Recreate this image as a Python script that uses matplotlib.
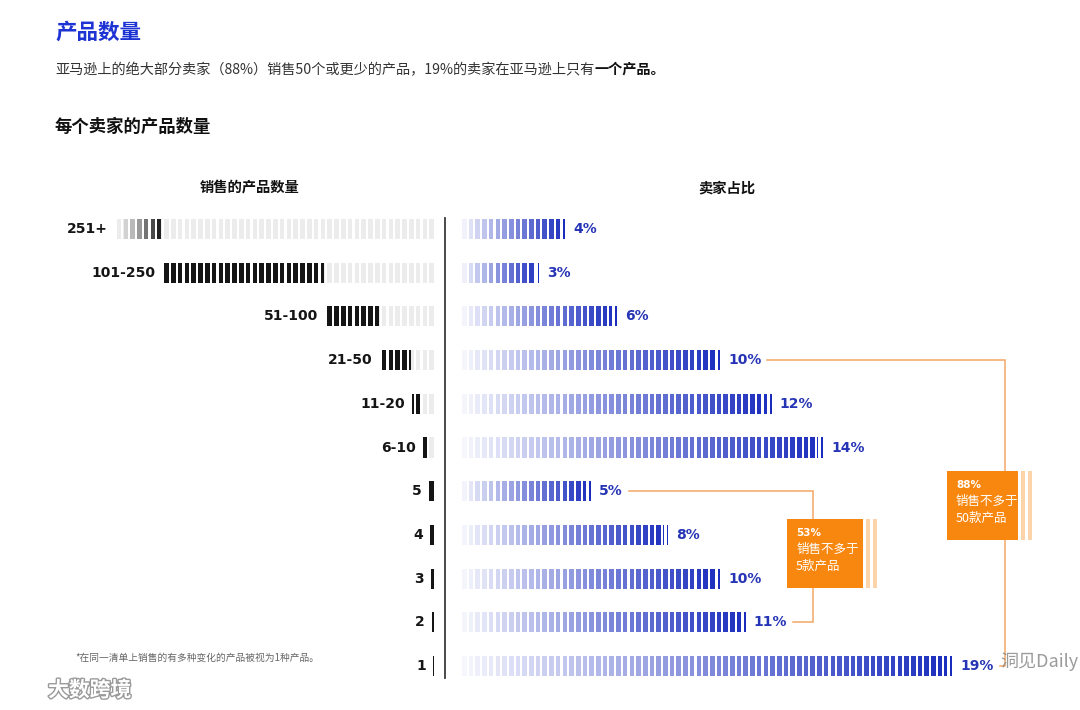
import numpy as np
import matplotlib
matplotlib.use("Agg")
import matplotlib.pyplot as plt
import matplotlib.patheffects as pe
from matplotlib.colors import to_rgb
from matplotlib.patches import Rectangle

plt.rcParams['font.family'] = ['Noto Sans CJK SC', 'DejaVu Sans']

# --- data ---
range_labels = ['251+', '101-250', '51-100', '21-50', '11-20', '6-10', '5', '4', '3', '2', '1']
# black part of each range bar, in number of products (open end of 251+ fades out)
span_lo = [251, 101, 51, 21, 11, 6, 0, 0, 0, 0, 0]
span_hi = [285, 250, 100, 50, 20, 10, 5, 4, 3, 2, 1]
seller_share = [4, 3, 6, 10, 12, 14, 5, 8, 10, 11, 19]  # % of sellers

group_pct = ['53%', '88%']
group_text = ['销售不多于\n5款产品', '销售不多于\n50款产品']
group_rows = [(6, 9), (3, 10)]

# --- layout / style ---
W, H = 1080, 710
PX_PROD = 1.088      # px per product (left)
PX_PCT = 25.8        # px per percent (right)
TOP_PX, BOT_PX = 207, 688

title_blue = '#1d33d3'
blue_dark = np.array(to_rgb('#1a2dbd'))
label_blue = '#2634b6'
black = '#151515'
bg_gray = '#ececec'
orange = '#f7870f'
orange_line = '#f2a866'
orange_light = '#fcd4a9'

bracket_x = [13.6, 21.05]
box_x = [(12.6, 15.55), (18.8, 21.55)]
box_y = [(6.64, 8.21), (5.54, 7.12)]


def fx(px):
    return px / W


def fy(py):
    return 1 - py / H


def grid_stripes(lo, hi, period, width):
    """Stripes on a fixed grid from 0, clipped to [lo, hi]."""
    if hi <= lo:
        return np.array([]), np.array([])
    k = np.arange(int(np.floor(lo / period)) - 1, int(np.ceil(hi / period)) + 1)
    lefts = k * period
    a = np.maximum(lefts, lo)
    b = np.minimum(lefts + width, hi)
    keep = (b - a) > 1e-6
    return a[keep], (b - a)[keep]


fig = plt.figure(figsize=(W / 100, H / 100), dpi=100)
ax_h = (BOT_PX - TOP_PX) / H
ax_l = fig.add_axes([fx(40), fy(BOT_PX), fx(434 - 40), ax_h])
ax_r = fig.add_axes([fx(445), fy(BOT_PX), fx(1075 - 445), ax_h])

ax_l.set_xlim((434 - 40) / PX_PROD, 0)
ax_r.set_xlim(-17 / PX_PCT, (1075 - 462) / PX_PCT)
for ax in (ax_l, ax_r):
    ax.set_ylim(len(range_labels) - 0.5, -0.5)
    ax.set_xticks([])
    ax.set_yticks([])
    ax.patch.set_visible(False)
    for s in ax.spines.values():
        s.set_visible(False)

# divider
ax_r.spines['left'].set_visible(True)
ax_r.spines['left'].set_bounds(-0.25, 10.27)
ax_r.spines['left'].set_color('#3a3a3a')
ax_r.spines['left'].set_linewidth(1.3)

bar_h = 0.46

# --- left: product ranges ---
p_l, w_l = 6.8 / PX_PROD, 4.7 / PX_PROD
fade_end = 293
for i, (lbl, lo, hi) in enumerate(zip(range_labels, span_lo, span_hi)):
    bg_hi = fade_end if i == 0 else hi
    a, w = grid_stripes(0, bg_hi, p_l, w_l)
    ax_l.barh(np.full(len(a), i), w, left=a, height=bar_h, color=bg_gray, linewidth=0)
    a, w = grid_stripes(lo, hi, p_l, w_l)
    if i == 0:
        t = np.clip((hi - (a + w / 2)) / (hi - lo), 0, 1)
        light = np.array(to_rgb('#d6d6d6'))
        dark = np.array(to_rgb(black))
        cols = [light + (dark - light) * tt ** 1.3 for tt in t]
    else:
        cols = black
    ax_l.barh(np.full(len(a), i), w, left=a, height=bar_h, color=cols, linewidth=0)
    ax_l.annotate(lbl, xy=(bg_hi, i), xytext=(-7, 0), textcoords='offset pixels',
                  ha='right', va='center', fontsize=10, fontweight='bold',
                  color=black, family='DejaVu Sans')

# --- right: share of sellers ---
p_r, w_r = 6.7 / PX_PCT, 4.6 / PX_PCT
gap_r, cap_w = 3.0 / PX_PCT, 1.8 / PX_PCT
white = np.ones(3)
pct_texts = []
for i, v in enumerate(seller_share):
    a, w = grid_stripes(0, v - cap_w - gap_r, p_r, w_r)
    t = (a + w / 2) / v
    cols = [white + (blue_dark - white) * (0.03 + 0.97 * tt ** 0.9) for tt in t]
    ax_r.barh(np.full(len(a), i), w, left=a, height=bar_h, color=cols, linewidth=0)
    ax_r.barh(i, cap_w, left=v - cap_w, height=bar_h, color=blue_dark, linewidth=0)
    txt = ax_r.annotate(f'{v}%', xy=(v, i), xytext=(8, 0), textcoords='offset pixels',
                        ha='left', va='center', fontsize=10, fontweight='bold',
                        color=label_blue, family='DejaVu Sans')
    pct_texts.append(txt)

# --- brackets and boxes ---
fig.canvas.draw()
inv = ax_r.transData.inverted()


def label_end(i):
    bb = pct_texts[i].get_window_extent()
    return inv.transform((bb.x1 + 6, 0))[0]


for g, (r0, r1) in enumerate(group_rows):
    bx = bracket_x[g]
    ax_r.plot([label_end(r0), bx, bx, label_end(r1)], [r0, r0, r1, r1],
              color=orange_line, lw=1.1, zorder=3, solid_joinstyle='miter')
    x0, x1 = box_x[g]
    y0, y1 = box_y[g]
    ax_r.add_patch(Rectangle((x0, y0), x1 - x0, y1 - y0, facecolor=orange,
                             edgecolor='none', zorder=4))
    for off in (3, 10):
        ax_r.add_patch(Rectangle((x1 + off / PX_PCT, y0), 4 / PX_PCT, y1 - y0,
                                 facecolor=orange_light, edgecolor='none', zorder=4))
    ax_r.annotate(group_pct[g], xy=(x0, y0), xytext=(9, -14), textcoords='offset pixels',
                  ha='left', va='center', fontsize=7.5, fontweight='bold',
                  color='white', family='DejaVu Sans', zorder=5)
    ax_r.annotate(group_text[g], xy=(x0, y0), xytext=(9, -24), textcoords='offset pixels',
                  ha='left', va='top', fontsize=9, color='white', linespacing=1.35, zorder=5)

# --- texts ---
fig.text(fx(55), fy(32), '产品数量', fontsize=15.5, fontweight='bold',
         color=title_blue, ha='left', va='center')
sub = fig.text(fx(55), fy(70), '亚马逊上的绝大部分卖家（88%）销售50个或更少的产品，19%的卖家在亚马逊上只有',
               fontsize=10.2, color='#333333', ha='left', va='center')
ax_l.annotate('一个产品。', xy=(1, 0.5), xycoords=sub, ha='left', va='center',
              fontsize=10.2, fontweight='bold', color='#111111')
fig.text(fx(55), fy(127), '每个卖家的产品数量', fontsize=12.5, fontweight='bold',
         color='#111111', ha='left', va='center')
fig.text(fx(250), fy(188), '销售的产品数量', fontsize=10.3, fontweight='bold',
         color='#111111', ha='center', va='center')
fig.text(fx(727), fy(188), '卖家占比', fontsize=10.3, fontweight='bold',
         color='#111111', ha='center', va='center')
fig.text(fx(75), fy(658), '*在同一清单上销售的有多种变化的产品被视为1种产品。', fontsize=7,
         color='#666666', ha='left', va='center')

# watermarks
fig.text(fx(1000), fy(662), '洞见Daily', fontsize=13, color='#8a8a8a', alpha=0.85,
         ha='left', va='center')
fig.text(fx(48), fy(690), '大数跨境', fontsize=15, color='white', ha='left', va='center',
         fontweight='bold',
         path_effects=[pe.withStroke(linewidth=2, foreground='#9a9a9a')])

fig.savefig('out.png', dpi=100)
